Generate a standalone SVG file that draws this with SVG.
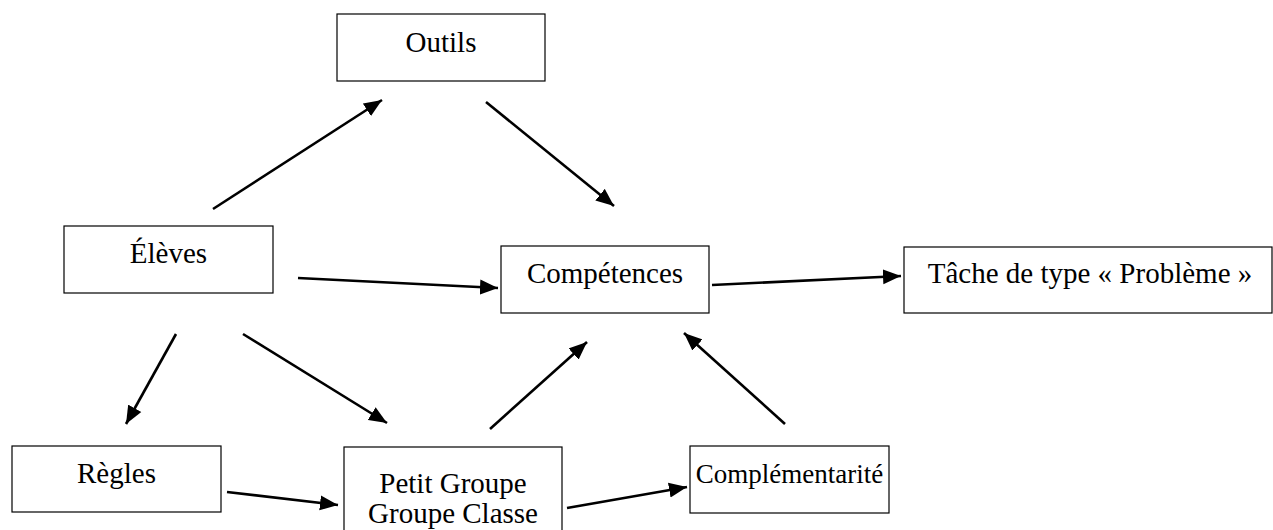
<svg xmlns="http://www.w3.org/2000/svg" width="1273" height="530" viewBox="0 0 1273 530">
<style>
.box{fill:#fff;stroke:#000;stroke-width:1.2}
.t{font-family:"Liberation Serif","Times New Roman",serif;font-size:29px;fill:#000;text-anchor:middle}
.c{stroke:#000;stroke-width:2.6;fill:none;marker-end:url(#ah)}
</style>
<defs>
<marker id="ah" markerUnits="userSpaceOnUse" markerWidth="19" markerHeight="16" refX="18" refY="8" orient="auto">
<path d="M0,0.5 L18,8 L0,15.5 z" fill="#000"/>
</marker>
</defs>
<rect width="1273" height="530" fill="#fff"/>
<g id="connectors">
<line class="c" x1="213" y1="209" x2="382" y2="100"/>
<line class="c" x1="486" y1="102" x2="614" y2="206"/>
<line class="c" x1="298" y1="278" x2="498" y2="288"/>
<line class="c" x1="712" y1="285" x2="901" y2="276"/>
<line class="c" x1="176" y1="334" x2="126" y2="424"/>
<line class="c" x1="243" y1="334" x2="387" y2="423"/>
<line class="c" x1="490" y1="429" x2="587" y2="342"/>
<line class="c" x1="785" y1="424" x2="684" y2="333"/>
<line class="c" x1="227" y1="492" x2="338" y2="505"/>
<line class="c" x1="567" y1="508" x2="687" y2="487"/>
</g>
<g id="outils"><rect class="box" x="337" y="14" width="208" height="67"/><text class="t" x="441" y="52">Outils</text></g>
<g id="eleves"><rect class="box" x="64" y="226" width="209" height="67"/><text class="t" x="168.5" y="263">Élèves</text></g>
<g id="competences"><rect class="box" x="501" y="246" width="208" height="67"/><text class="t" x="605" y="283">Compétences</text></g>
<g id="tache"><rect class="box" x="904" y="247" width="368" height="66"/><text class="t" x="1090" y="283">Tâche de type « Problème »</text></g>
<g id="regles"><rect class="box" x="12" y="446" width="209" height="66"/><text class="t" x="116.5" y="483">Règles</text></g>
<g id="groupe"><rect class="box" x="344" y="447" width="218" height="86"/><text class="t" x="453" y="493">Petit Groupe</text><text class="t" x="453" y="523">Groupe Classe</text></g>
<g id="complementarite"><rect class="box" x="690" y="446" width="199" height="67"/><text class="t" x="789.5" y="483" style="font-size:27px">Complémentarité</text></g>
</svg>
